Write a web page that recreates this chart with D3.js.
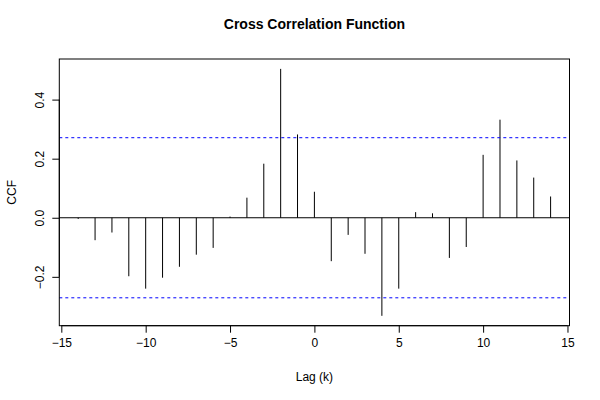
<!DOCTYPE html>
<html>
<head>
<meta charset="utf-8">
<script src="https://cdn.jsdelivr.net/npm/d3@7"></script>
<style>
  html, body { margin: 0; padding: 0; background: #fff; }
  svg { display: block; }
  text { font-family: "Liberation Sans", Arial, Helvetica, sans-serif; }
</style>
</head>
<body>
<svg id="chart" width="600" height="400"></svg>
<script>
// ---- data ----
const lags = [-14,-13,-12,-11,-10,-9,-8,-7,-6,-5,-4,-3,-2,-1,0,1,2,3,4,5,6,7,8,9,10,11,12,13,14];
const ccfValues = [-0.004,-0.076,-0.050,-0.198,-0.240,-0.203,-0.166,-0.125,-0.102,0.004,0.068,0.183,0.504,0.282,0.088,
                   -0.147,-0.058,-0.122,-0.332,-0.240,0.019,0.015,-0.136,-0.099,0.213,0.332,0.194,0.136,0.072];
const confLimit = 0.271;
const xTicks = [-15,-10,-5,0,5,10,15];
const yTicks = [-0.2,0.0,0.2,0.4];
const yTickLabels = ["\u22120.2","0.0","0.2","0.4"];
const xTickLabels = ["\u221215","\u221210","\u22125","0","5","10","15"];
const titleText = "Cross Correlation Function";
const xLabel = "Lag (k)";
const yLabel = "CCF";

// ---- layout ----
const svg = d3.select("#chart");
const pL = 59.3, pR = 569.5, pT = 59, pB = 325.7;

const xMin = d3.min(lags), xMax = d3.max(lags);
const xPad = (xMax - xMin) * 0.04;
const x = d3.scaleLinear().domain([xMin - xPad, xMax + xPad]).range([pL, pR]);

const yLo = Math.min(d3.min(ccfValues), -confLimit), yHi = Math.max(d3.max(ccfValues), confLimit);
const yPad = (yHi - yLo) * 0.04;
const y = d3.scaleLinear().domain([yLo - yPad, yHi + yPad]).range([pB, pT]);

// zero line
svg.append("line")
  .attr("x1", pL).attr("x2", pR)
  .attr("y1", y(0)).attr("y2", y(0))
  .attr("stroke", "#000").attr("stroke-width", 1);

// bars (spikes)
svg.append("g").selectAll("line")
  .data(lags.map((l, i) => ({lag: l, v: ccfValues[i]})))
  .join("line")
  .attr("x1", d => x(d.lag)).attr("x2", d => x(d.lag))
  .attr("y1", y(0)).attr("y2", d => y(d.v))
  .attr("stroke", "#000").attr("stroke-width", 1);

// confidence limits
[confLimit, -confLimit].forEach(c => {
  svg.append("line")
    .attr("x1", pL).attr("x2", pR)
    .attr("y1", y(c)).attr("y2", y(c))
    .attr("stroke", "#0000ff").attr("stroke-width", 1)
    .attr("stroke-dasharray", "3,3");
});

// box
svg.append("rect")
  .attr("x", pL).attr("y", pT)
  .attr("width", pR - pL).attr("height", pB - pT)
  .attr("fill", "none").attr("stroke", "#000").attr("stroke-width", 1);

// x axis
const xAxis = d3.axisBottom(x)
  .tickValues(xTicks)
  .tickSize(7)
  .tickPadding(6)
  .tickFormat((d, i) => xTickLabels[i]);
const gx = svg.append("g").attr("transform", `translate(0,${pB})`).call(xAxis);
gx.select(".domain").attr("d", `M${x(xTicks[0])},0H${x(xTicks[xTicks.length-1])}`).attr("stroke", "#000");
gx.selectAll(".tick line").attr("stroke", "#000");
gx.selectAll(".tick text").attr("font-size", 12).attr("fill", "#000")
  .attr("font-family", '"Liberation Sans", Arial, sans-serif');

// y axis
const yAxis = d3.axisLeft(y)
  .tickValues(yTicks)
  .tickSize(7)
  .tickFormat((d, i) => yTickLabels[i]);
const gy = svg.append("g").attr("transform", `translate(${pL},0)`).call(yAxis);
gy.select(".domain").attr("d", `M0,${y(yTicks[0])}V${y(yTicks[yTicks.length-1])}`).attr("stroke", "#000");
gy.selectAll(".tick line").attr("stroke", "#000");
gy.selectAll(".tick text")
  .attr("font-size", 12).attr("fill", "#000")
  .attr("font-family", '"Liberation Sans", Arial, sans-serif')
  .attr("x", 0).attr("dy", null)
  .attr("text-anchor", "middle")
  .attr("dominant-baseline", "central")
  .attr("transform", "translate(-19,0) rotate(-90)");

// title
svg.append("text")
  .attr("x", (pL + pR) / 2).attr("y", 29)
  .attr("text-anchor", "middle")
  .attr("font-size", 14).attr("font-weight", "bold")
  .text(titleText);

// x label
svg.append("text")
  .attr("x", (pL + pR) / 2).attr("y", 381)
  .attr("text-anchor", "middle")
  .attr("font-size", 12)
  .text(xLabel);

// y label
svg.append("text")
  .attr("transform", `translate(16,${(pT + pB) / 2}) rotate(-90)`)
  .attr("text-anchor", "middle")
  .attr("font-size", 12)
  .text(yLabel);
</script>
</body>
</html>
